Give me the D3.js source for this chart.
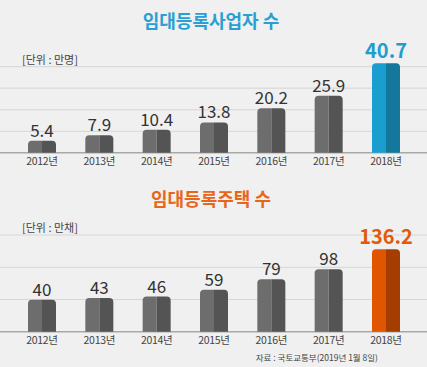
<!DOCTYPE html>
<html><head><meta charset="utf-8">
<script src="https://cdn.jsdelivr.net/npm/d3@7"></script>
<style>
html,body{margin:0;padding:0;background:#f0f0f0;}
svg{display:block;font-family:"Noto Sans CJK KR","Noto Sans",sans-serif;}
</style></head><body>
<svg id="c" width="427" height="367"></svg>
<script>
const years = ["2012년","2013년","2014년","2015년","2016년","2017년","2018년"];
const operators = [5.4, 7.9, 10.4, 13.8, 20.2, 25.9, 40.7];
const houses = [40, 43, 46, 59, 79, 98, 136.2];
const titleTop = "임대등록사업자 수";
const titleBottom = "임대등록주택 수";
const unitTop = "[단위 : 만명]";
const unitBottom = "[단위 : 만채]";
const source = "자료 : 국토교통부(2019년 1월 8일)";

const svg = d3.select("#c");
const W = 427;
svg.append("rect").attr("width", W).attr("height", 367).attr("fill", "#f0f0f0");

const x = d3.scalePoint().domain(years).range([42, 386]);
const bw = 28, r = 4;

function barPath(x0, x1, yTop, yBase, rl, rr) {
  return `M${x0},${yBase}L${x0},${yTop + rl}Q${x0},${yTop} ${x0 + rl},${yTop}` +
         `L${x1 - rr},${yTop}Q${x1},${yTop} ${x1},${yTop + rr}L${x1},${yBase}Z`;
}

function panel(cfg) {
  const g = svg.append("g");
  const y = d3.scaleLinear().domain(cfg.domain).range([cfg.base, cfg.top]);
  // gridlines
  cfg.grid.forEach(gy => {
    g.append("line").attr("x1", 0).attr("x2", W).attr("y1", gy).attr("y2", gy)
      .attr("stroke", "#d6d6d6").attr("stroke-width", 1);
  });
  g.append("line").attr("x1", 0).attr("x2", W).attr("y1", cfg.base).attr("y2", cfg.base)
    .attr("stroke", "#a8a8a8").attr("stroke-width", 1.5);
  // title
  g.append("text").attr("x", 211).attr("y", cfg.titleY).attr("text-anchor", "middle")
    .attr("font-size", 18).attr("font-weight", 700).attr("fill", cfg.titleColor).text(cfg.title);
  g.append("text").attr("x", 22).attr("y", cfg.unitY).attr("font-size", 11)
    .attr("fill", "#444").text(cfg.unit);
  cfg.values.forEach((v, i) => {
    const cx = x(years[i]);
    const yt = y(v);
    const last = i === years.length - 1;
    const cL = last ? cfg.hiL : "#6d6d6d";
    const cR = last ? cfg.hiR : "#545454";
    g.append("path").attr("d", barPath(cx - bw / 2, cx, yt, cfg.base, r, 0)).attr("fill", cL);
    g.append("path").attr("d", barPath(cx, cx + bw / 2, yt, cfg.base, 0, r)).attr("fill", cR);
    g.append("text").attr("x", cx).attr("y", yt - (last ? 5 : 4)).attr("text-anchor", "middle")
      .attr("font-size", last ? 20 : 17).attr("font-weight", last ? 700 : 400)
      .attr("fill", last ? cfg.hiText : "#333").text(v);
    g.append("text").attr("x", cx).attr("y", cfg.base + cfg.yearDy).attr("text-anchor", "middle")
      .attr("font-size", 10.5).attr("fill", "#444").attr("letter-spacing", -0.3).text(years[i]);
  });
}

panel({
  values: operators, domain: [0, 40.7], base: 152.7, top: 63.3,
  grid: [66.7, 88.2, 109.8, 131.3],
  title: titleTop, titleY: 28, titleColor: "#2a9fd3",
  unit: unitTop, unitY: 64,
  hiL: "#1a9ed0", hiR: "#13789b", hiText: "#1f9cd0", yearDy: 12
});
panel({
  values: houses, domain: [-21, 140], base: 331.7, top: 331.7 - 0.525 * 161,
  grid: [235, 267.3, 299.5],
  title: titleBottom, titleY: 206, titleColor: "#e8661a",
  unit: unitBottom, unitY: 232,
  hiL: "#e05500", hiR: "#a33e00", hiText: "#e05a0a", yearDy: 12
});

svg.append("text").attr("x", 378).attr("y", 361).attr("text-anchor", "end")
  .attr("font-size", 8.5).attr("fill", "#444").text(source);
</script>
</body></html>
